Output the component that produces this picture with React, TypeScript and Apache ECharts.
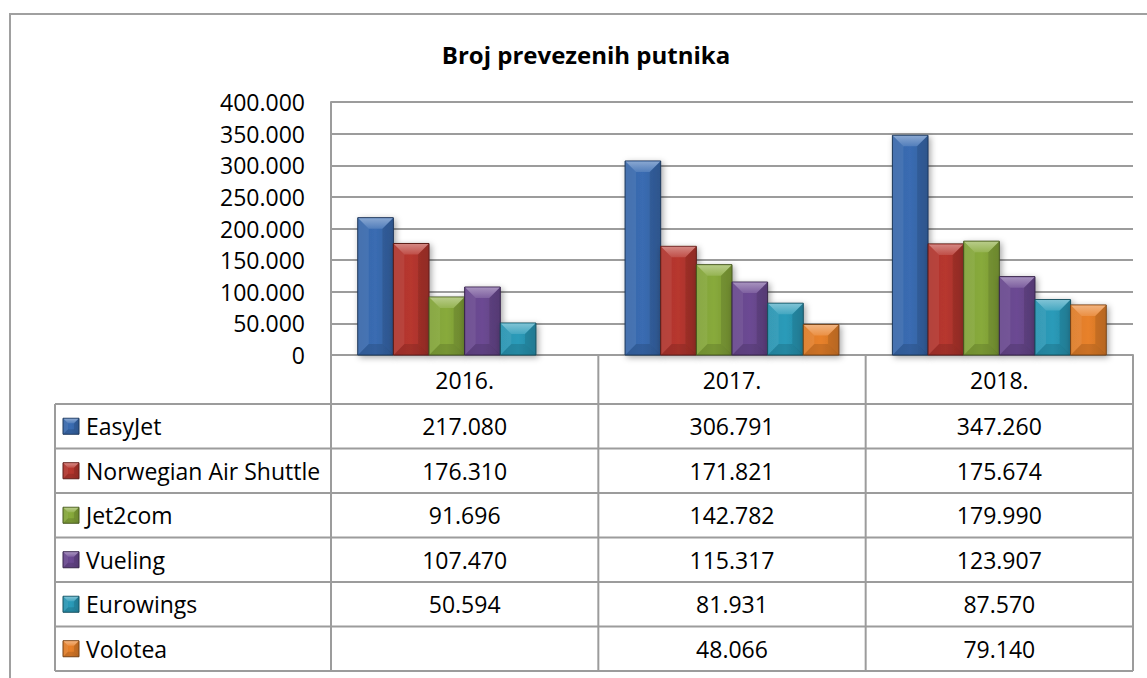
import React, { useEffect, useRef } from 'react';
import * as echarts from 'echarts';

const chartTitle = 'Broj prevezenih putnika';
const categories = ['2016.', '2017.', '2018.'];
const seriesNames = ['EasyJet', 'Norwegian Air Shuttle', 'Jet2com', 'Vueling', 'Eurowings', 'Volotea'];
const easyJet = [217080, 306791, 347260];
const norwegian = [176310, 171821, 175674];
const jet2com = [91696, 142782, 179990];
const vueling = [107470, 115317, 123907];
const eurowings = [50594, 81931, 87570];
const volotea: (number | null)[] = [null, 48066, 79140];
const seriesValues: (number | null)[][] = [easyJet, norwegian, jet2com, vueling, eurowings, volotea];
const yMin = 0;
const yMax = 400000;
const yInterval = 50000;

const palette = ['#3a6cb2', '#b7372f', '#88aa3b', '#6c4a93', '#2a9bb9', '#e8812a'];
const FONT = "'Open Sans', 'DejaVu Sans', sans-serif";

function fmt(v: number | null): string {
  if (v == null) return '';
  return String(v).replace(/\B(?=(\d{3})+(?!\d))/g, '.');
}

function shade(hex: string, f: number): string {
  const n = parseInt(hex.slice(1), 16);
  let r = (n >> 16) & 255, g = (n >> 8) & 255, b = n & 255;
  if (f >= 0) {
    r = r + (255 - r) * f; g = g + (255 - g) * f; b = b + (255 - b) * f;
  } else {
    r = r * (1 + f); g = g * (1 + f); b = b * (1 + f);
  }
  return `rgb(${Math.round(r)},${Math.round(g)},${Math.round(b)})`;
}

function bevelChildren(x0: number, y0: number, w: number, h: number, color: string, depth: number, withShadow: boolean) {
  const d = Math.max(0, Math.min(depth, w / 2 - 1, h / 2));
  const children: any[] = [
    {
      type: 'rect',
      shape: { x: x0, y: y0, width: w, height: h },
      style: {
        fill: new echarts.graphic.LinearGradient(0, 0, 1, 0, [
          { offset: 0, color: shade(color, -0.05) },
          { offset: 0.5, color: color },
          { offset: 1, color: shade(color, -0.12) },
        ]),
        stroke: shade(color, -0.5),
        lineWidth: 1,
        ...(withShadow
          ? { shadowBlur: 6, shadowColor: 'rgba(0,0,0,0.35)', shadowOffsetX: 2, shadowOffsetY: 2 }
          : {}),
      },
    },
    {
      type: 'polygon',
      shape: { points: [[x0 + 0.5, y0 + 0.5], [x0 + w - 0.5, y0 + 0.5], [x0 + w - d, y0 + d], [x0 + d, y0 + d]] },
      style: {
        fill: new echarts.graphic.LinearGradient(0, 0, 0, 1, [
          { offset: 0, color: shade(color, 0.4) },
          { offset: 1, color: shade(color, 0.12) },
        ]),
      },
    },
    {
      type: 'polygon',
      shape: { points: [[x0 + 0.5, y0 + 0.5], [x0 + d, y0 + d], [x0 + d, y0 + h - d], [x0 + 0.5, y0 + h]] },
      style: { fill: 'rgba(255,255,255,0.07)' },
    },
    {
      type: 'polygon',
      shape: { points: [[x0 + w - 0.5, y0 + 0.5], [x0 + w - d, y0 + d], [x0 + w - d, y0 + h - d], [x0 + w - 0.5, y0 + h]] },
      style: { fill: 'rgba(0,0,0,0.10)' },
    },
    {
      type: 'polygon',
      shape: { points: [[x0 + 0.5, y0 + h - 0.5], [x0 + d, y0 + h - d], [x0 + w - d, y0 + h - d], [x0 + w - 0.5, y0 + h - 0.5]] },
      style: { fill: 'rgba(0,0,0,0.12)' },
    },
  ];
  return children;
}

const GRID_LEFT = 331;
const GRID_TOP = 102;
const GRID_RIGHT = 14;
const GRID_BOTTOM = 323;
const TABLE_LEFT = 55;
const TABLE_TOP = 404;
const ROW_H = 44.5;
const LINE_COLOR = '#9c9c9c';

export default function App() {
  const ref = useRef<HTMLDivElement>(null);
  useEffect(() => {
    if (!ref.current) return;
    const chart = echarts.init(ref.current, null, { renderer: 'svg' });
    const nSeries = seriesNames.length;

    const series = seriesNames.map((name, sIdx) => ({
      type: 'custom',
      name,
      data: seriesValues[sIdx]
        .map((v, i) => [i, v])
        .filter((d) => d[1] != null),
      encode: { x: 0, y: 1 },
      renderItem: (params: any, api: any) => {
        const cat = api.value(0);
        const val = api.value(1);
        const base = api.coord([cat, 0]);
        const top = api.coord([cat, val]);
        const band = api.size([1, 0])[0];
        const groupW = band * 0.8;
        const bw = groupW / nSeries;
        const x0 = base[0] - groupW / 2 + sIdx * bw;
        const y0 = top[1];
        const h = base[1] - top[1];
        return {
          type: 'group',
          children: bevelChildren(x0, y0, bw, h, palette[sIdx], 11, true),
        };
      },
      z: 5,
    }));

    const option: any = {
      animation: false,
      backgroundColor: '#ffffff',
      grid: { left: GRID_LEFT, top: GRID_TOP, right: GRID_RIGHT, bottom: GRID_BOTTOM, containLabel: false },
      xAxis: {
        type: 'category',
        data: categories,
        axisLine: { show: true, lineStyle: { color: LINE_COLOR, width: 2 } },
        axisTick: { show: false },
        axisLabel: { color: '#000', fontSize: 23, fontFamily: FONT, margin: 13 },
        splitLine: { show: false },
      },
      yAxis: {
        type: 'value',
        min: yMin,
        max: yMax,
        interval: yInterval,
        axisLine: { show: true, lineStyle: { color: LINE_COLOR, width: 2 } },
        axisTick: { show: false },
        axisLabel: { color: '#000', fontSize: 23, fontFamily: FONT, margin: 26, formatter: (v: number) => fmt(v) },
        splitLine: { show: true, lineStyle: { color: LINE_COLOR, width: 2 } },
      },
      series,
    };
    chart.setOption(option);

    const centers = categories.map((c, i) => chart.convertToPixel({ xAxisIndex: 0 }, i) as number);
    const colW = centers.length > 1 ? centers[1] - centers[0] : 267;
    const bounds = [centers[0] - colW / 2, ...centers.map((c) => c + colW / 2)];
    const axisBottom = chart.convertToPixel({ yAxisIndex: 0 }, 0) as number;
    const rightX = bounds[bounds.length - 1];
    const tableBottom = TABLE_TOP + ROW_H * seriesNames.length;

    const g: any[] = [];
    g.push({
      type: 'polyline',
      shape: { points: [[10, 678], [10, 14], [1147, 14]] },
      style: { stroke: '#a0a0a0', lineWidth: 2, fill: 'none' },
      silent: true,
    });
    g.push({
      type: 'text',
      x: 586,
      y: 54,
      style: {
        text: chartTitle,
        fontFamily: FONT,
        fontSize: 24,
        fontWeight: 'bold',
        fill: '#000',
        align: 'center',
        verticalAlign: 'middle',
      },
    });
    bounds.forEach((bx) => {
      g.push({
        type: 'line',
        shape: { x1: bx, y1: axisBottom, x2: bx, y2: tableBottom },
        style: { stroke: LINE_COLOR, lineWidth: 2 },
        silent: true,
      });
    });
    for (let r = 0; r <= seriesNames.length; r++) {
      const y = TABLE_TOP + r * ROW_H;
      g.push({
        type: 'line',
        shape: { x1: TABLE_LEFT, y1: y, x2: rightX, y2: y },
        style: { stroke: LINE_COLOR, lineWidth: 2 },
        silent: true,
      });
    }
    g.push({
      type: 'line',
      shape: { x1: TABLE_LEFT, y1: TABLE_TOP, x2: TABLE_LEFT, y2: tableBottom },
      style: { stroke: LINE_COLOR, lineWidth: 2 },
      silent: true,
    });
    seriesNames.forEach((name, sIdx) => {
      const cy = TABLE_TOP + (sIdx + 0.5) * ROW_H;
      g.push({
        type: 'group',
        children: bevelChildren(63, cy - 8, 16, 16, palette[sIdx], 5, false),
      });
      g.push({
        type: 'text',
        x: 86,
        y: cy,
        style: { text: name, fontFamily: FONT, fontSize: 23, fill: '#000', align: 'left', verticalAlign: 'middle' },
      });
      seriesValues[sIdx].forEach((v, i) => {
        if (v == null) return;
        g.push({
          type: 'text',
          x: centers[i],
          y: cy,
          style: { text: fmt(v), fontFamily: FONT, fontSize: 23, fill: '#000', align: 'center', verticalAlign: 'middle' },
        });
      });
    });
    chart.setOption({ graphic: { elements: g } });

    return () => chart.dispose();
  }, []);

  return (
    <div
      ref={ref}
      style={{ position: 'absolute', left: 0, top: 0, width: 1147, height: 678, background: '#fff' }}
    />
  );
}
